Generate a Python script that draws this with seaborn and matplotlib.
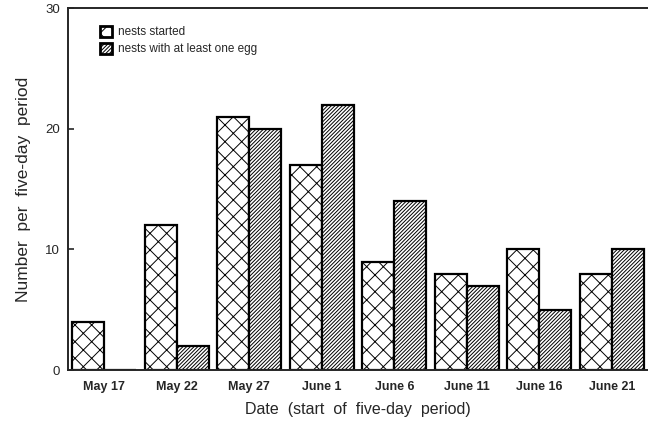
import pandas as pd
import seaborn as sns
import matplotlib as mpl
from matplotlib import pyplot as plt
from matplotlib.patches import Patch

# values (five-day periods)
dates = ["May 17", "May 22", "May 27", "June 1", "June 6", "June 11", "June 16", "June 21"]
nests_started = [4, 12, 21, 17, 9, 8, 10, 8]
nests_with_egg = [0, 2, 20, 22, 14, 7, 5, 10]
series_names = ["nests started", "nests with at least one egg"]

df = pd.DataFrame({
    "date": dates * 2,
    "count": nests_started + nests_with_egg,
    "series": [series_names[0]] * len(dates) + [series_names[1]] * len(dates),
})

sns.set_style("ticks")
plt.rcParams["font.family"] = ["Liberation Sans", "DejaVu Sans"]
mpl.rcParams["hatch.linewidth"] = 0.7

fig = plt.figure(figsize=(6.48, 4.26), dpi=100)
ax = fig.add_axes([0.105, 0.131, 0.895, 0.85])

sns.barplot(data=df, x="date", y="count", hue="series", order=dates,
            hue_order=series_names, palette=["white", "white"],
            edgecolor="black", linewidth=1.6, width=0.88, ax=ax,
            legend=False)

hatches = ["xx", "/////////"]
for cont, h in zip(ax.containers, hatches):
    for bar in cont:
        bar.set_hatch(h)

ax.set_xlim(-0.5, 7.5)
ax.set_ylim(0, 30)
ax.set_yticks([0, 10, 20, 30])
ax.tick_params(axis="y", direction="in", length=4, width=1.2, labelsize=9.5, pad=6)
ax.tick_params(axis="x", length=0, labelsize=9, pad=8)
for lab in ax.get_xticklabels():
    lab.set_fontweight("bold")
ax.spines["right"].set_visible(False)
for s in ["left", "bottom", "top"]:
    ax.spines[s].set_linewidth(1.4)

ax.set_ylabel("Number  per  five-day  period", fontsize=12.5, labelpad=10)
ax.set_xlabel("Date  (start  of  five-day  period)", fontsize=11.5, labelpad=6)

handles = [Patch(facecolor="white", edgecolor="black", hatch=h, linewidth=2)
           for h in hatches]
ax.legend(handles, series_names, loc="upper left", bbox_to_anchor=(0.037, 0.98),
          frameon=False, fontsize=8.5, handlelength=1.0, handleheight=1.0,
          handletextpad=0.5, labelspacing=0.4)

fig.savefig("out.png", dpi=100)
